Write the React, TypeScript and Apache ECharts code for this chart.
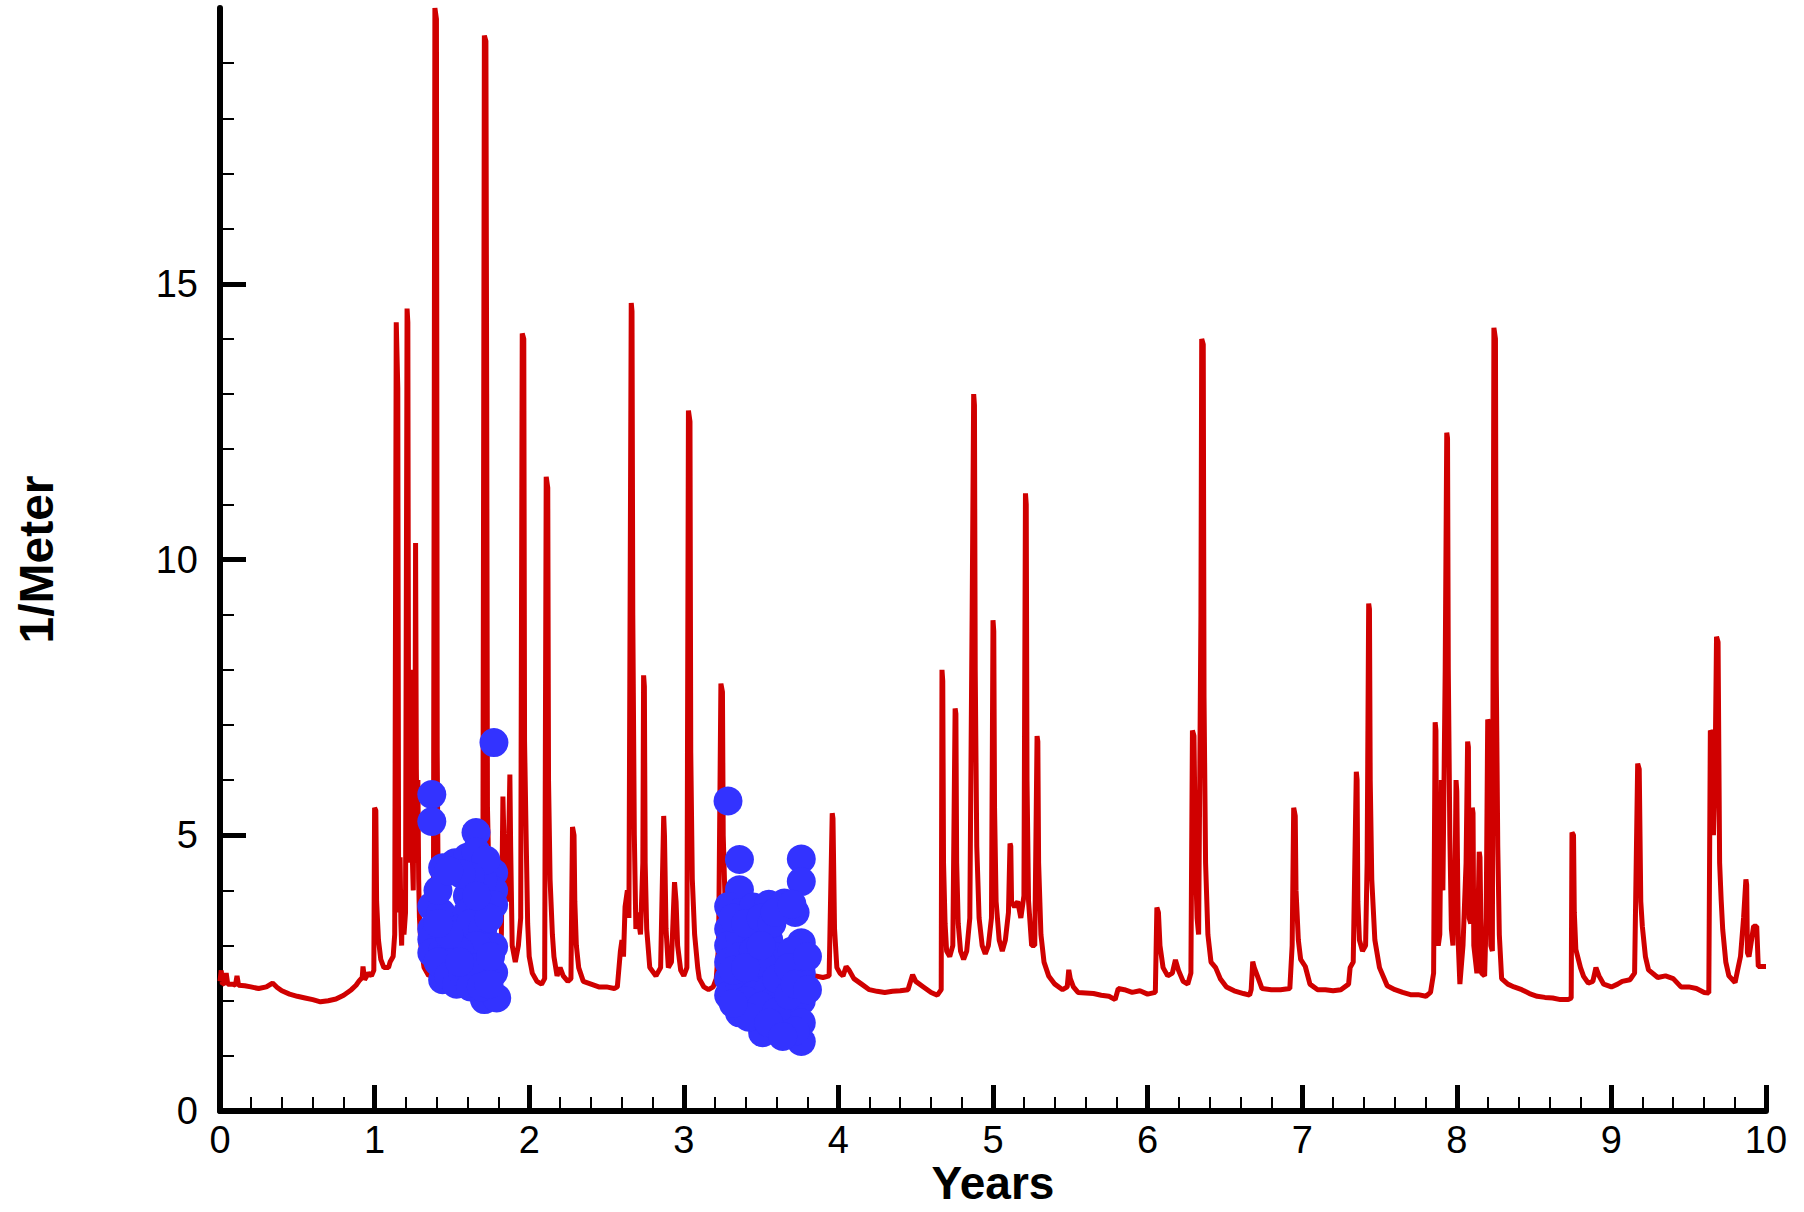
import React, { useEffect, useRef } from "react";
import * as echarts from "echarts";

// x-axis (Years) and y-axis (1/Meter) tick values
const yearTicks = [0, 1, 2, 3, 4, 5, 6, 7, 8, 9, 10];
const meterTicks = [0, 5, 10, 15];

// Red line: [year, 1/Meter], split in segments
const redSegA: [number, number][] = [
  [0, 2.35], [0.008, 2.55], [0.015, 2.3], [0.03, 2.32], [0.04, 2.5], [0.05, 2.3], [0.08, 2.3],
  [0.1, 2.28], [0.11, 2.45], [0.12, 2.28], [0.16, 2.27], [0.2, 2.25], [0.25, 2.22], [0.3, 2.25],
  [0.34, 2.32], [0.37, 2.24], [0.4, 2.18], [0.45, 2.12], [0.5, 2.08], [0.55, 2.05], [0.6, 2.02],
  [0.65, 1.98], [0.7, 2.0], [0.75, 2.03], [0.8, 2.1], [0.85, 2.2], [0.88, 2.28], [0.9, 2.36],
  [0.92, 2.42], [0.925, 2.62], [0.935, 2.38], [0.96, 2.5], [0.98, 2.45], [0.995, 2.55],
  [1.0, 5.5], [1.008, 5.45], [1.013, 3.8], [1.025, 3.1], [1.04, 2.75], [1.06, 2.6], [1.09, 2.6],
];
const redSegB: [number, number][] = [
  [1.1, 2.7], [1.12, 2.8], [1.13, 3.2], [1.14, 14.3], [1.15, 13.1], [1.155, 4.6], [1.16, 3.6],
  [1.165, 4.6], [1.17, 3.4], [1.175, 3.0], [1.18, 4.0], [1.19, 3.2], [1.2, 3.6], [1.21, 14.55],
  [1.215, 14.3], [1.22, 6.0], [1.225, 4.5], [1.235, 8.0], [1.24, 5.0], [1.25, 4.0], [1.255, 6.0],
  [1.26, 4.5], [1.265, 10.3], [1.27, 6.2], [1.275, 5.0], [1.28, 6.0], [1.285, 4.2], [1.29, 3.5],
  [1.3, 3.0], [1.32, 2.6], [1.35, 2.45], [1.38, 2.5], [1.39, 20], [1.4, 19.8], [1.405, 6.5],
  [1.41, 4.5], [1.43, 3.4], [1.46, 3.2], [1.5, 3.0], [1.53, 2.8], [1.56, 2.7], [1.6, 2.8],
  [1.62, 3.0], [1.65, 3.5], [1.68, 4.0], [1.7, 3.6], [1.71, 19.5], [1.72, 19.4], [1.725, 13.0],
  [1.73, 5.5], [1.74, 4.2], [1.76, 3.5], [1.78, 3.0], [1.8, 2.8], [1.82, 3.2], [1.83, 5.7],
  [1.84, 4.5], [1.86, 3.8], [1.875, 6.1], [1.88, 4.8], [1.89, 3.0], [1.91, 2.7], [1.93, 3.0],
  [1.945, 3.5], [1.955, 14.1], [1.965, 14.0], [1.97, 6.7], [1.98, 5.0], [1.99, 3.4], [2.0, 2.8],
  [2.02, 2.5], [2.05, 2.35], [2.08, 2.3], [2.1, 2.4], [2.11, 11.5], [2.12, 11.3], [2.125, 6.0],
  [2.135, 4.2], [2.15, 3.2], [2.16, 2.8], [2.18, 2.45], [2.2, 2.6], [2.22, 2.45], [2.25, 2.35],
  [2.27, 2.4], [2.28, 5.15], [2.29, 5.0], [2.295, 3.8], [2.305, 3.0], [2.32, 2.6], [2.35, 2.35],
  [2.4, 2.3], [2.45, 2.25], [2.5, 2.25], [2.55, 2.22], [2.57, 2.25],
];
const redSegC: [number, number][] = [
  [2.59, 2.9], [2.6, 3.1], [2.61, 2.8], [2.62, 3.7], [2.635, 4.0], [2.645, 3.5], [2.66, 14.65],
  [2.665, 14.5], [2.67, 9.0], [2.68, 5.0], [2.69, 3.3], [2.7, 3.6], [2.72, 3.2], [2.735, 4.5],
  [2.74, 7.9], [2.745, 7.7], [2.75, 4.5], [2.76, 3.3], [2.78, 2.6], [2.82, 2.45], [2.85, 2.6],
  [2.87, 5.35], [2.875, 5.0], [2.885, 3.3], [2.9, 2.6], [2.92, 2.7], [2.94, 4.15], [2.95, 3.8],
  [2.96, 3.0], [2.98, 2.55], [3.0, 2.45], [3.02, 2.6], [3.03, 12.7], [3.04, 12.5], [3.045, 6.5],
  [3.055, 4.2], [3.07, 3.2], [3.09, 2.6], [3.1, 2.4], [3.13, 2.25], [3.16, 2.2], [3.19, 2.25],
  [3.21, 2.4], [3.225, 3.0], [3.24, 7.75], [3.25, 7.6], [3.255, 5.0], [3.27, 3.5], [3.3, 2.7],
  [3.35, 2.45], [3.4, 2.4], [3.5, 2.35], [3.6, 2.35], [3.7, 2.35], [3.8, 2.4], [3.85, 2.45],
  [3.9, 2.42], [3.94, 2.45], [3.96, 5.4], [3.965, 5.3], [3.975, 3.3], [3.99, 2.6], [4.01, 2.5],
  [4.03, 2.45], [4.05, 2.62], [4.07, 2.55], [4.1, 2.4], [4.15, 2.3], [4.2, 2.2], [4.25, 2.17],
  [4.3, 2.15], [4.35, 2.17], [4.4, 2.18], [4.45, 2.2], [4.48, 2.47], [4.5, 2.35], [4.55, 2.25],
  [4.6, 2.15], [4.64, 2.1],
];
const redSegD: [number, number][] = [
  [4.665, 2.2], [4.67, 8.0], [4.675, 7.8], [4.68, 4.5], [4.69, 3.4], [4.7, 2.9], [4.72, 2.8],
  [4.74, 3.0], [4.755, 7.3], [4.76, 7.2], [4.765, 4.5], [4.775, 3.4], [4.79, 2.9], [4.81, 2.75],
  [4.83, 2.9], [4.85, 3.5], [4.865, 9.0], [4.875, 13.0], [4.88, 12.8], [4.885, 8.0], [4.895, 4.8],
  [4.91, 3.5], [4.93, 3.0], [4.95, 2.85], [4.97, 3.0], [4.99, 3.5], [5.0, 8.9], [5.005, 8.7],
  [5.01, 5.5], [5.02, 3.8], [5.04, 3.1], [5.06, 2.9], [5.08, 3.1], [5.1, 3.6], [5.11, 4.85],
  [5.115, 4.8], [5.12, 3.8], [5.14, 3.7], [5.16, 3.8], [5.18, 3.5], [5.2, 3.9], [5.21, 11.2],
  [5.215, 11.0], [5.22, 6.0], [5.23, 3.8], [5.25, 3.0], [5.27, 3.0], [5.285, 6.8], [5.29, 6.7],
  [5.295, 4.5], [5.31, 3.2], [5.33, 2.7], [5.36, 2.45], [5.4, 2.3], [5.45, 2.2], [5.48, 2.25],
  [5.49, 2.56], [5.5, 2.4], [5.52, 2.25], [5.55, 2.15], [5.6, 2.14], [5.65, 2.13], [5.7, 2.1],
  [5.75, 2.08], [5.79, 2.02], [5.81, 2.22], [5.85, 2.2], [5.9, 2.15], [5.95, 2.18], [6.0, 2.12],
  [6.05, 2.15], [6.06, 3.69], [6.07, 3.6], [6.08, 3.0], [6.1, 2.6], [6.13, 2.45], [6.16, 2.5],
  [6.18, 2.74], [6.2, 2.55], [6.23, 2.35], [6.26, 2.3], [6.28, 2.5], [6.29, 6.9], [6.3, 6.8],
  [6.31, 4.5], [6.32, 3.5], [6.33, 3.2], [6.345, 9.0], [6.35, 14.0], [6.36, 13.9], [6.365, 7.5],
  [6.375, 4.5], [6.39, 3.2], [6.41, 2.7], [6.44, 2.6], [6.47, 2.4], [6.51, 2.25], [6.56, 2.18],
  [6.62, 2.13],
];
const redSegE: [number, number][] = [
  [6.66, 2.1], [6.67, 2.2], [6.68, 2.71], [6.69, 2.6], [6.71, 2.45], [6.74, 2.22], [6.8, 2.2],
  [6.86, 2.2], [6.92, 2.22], [6.935, 3.0], [6.945, 5.5], [6.955, 5.35], [6.96, 4.0], [6.975, 3.1],
  [6.99, 2.75], [7.02, 2.62], [7.05, 2.3], [7.1, 2.2], [7.15, 2.2], [7.2, 2.18], [7.25, 2.2],
  [7.3, 2.3], [7.31, 2.6], [7.33, 2.7], [7.35, 6.15], [7.355, 6.0], [7.36, 3.8], [7.37, 3.1],
  [7.39, 2.9], [7.41, 3.0], [7.42, 4.5], [7.43, 9.2], [7.435, 9.1], [7.44, 6.0], [7.45, 4.2],
  [7.47, 3.1], [7.5, 2.6], [7.55, 2.27], [7.6, 2.2], [7.65, 2.15], [7.7, 2.11], [7.75, 2.11],
  [7.8, 2.08], [7.83, 2.15], [7.85, 2.5], [7.86, 7.05], [7.865, 6.9], [7.87, 3.8], [7.88, 3.0],
  [7.89, 3.2], [7.9, 6.0], [7.91, 4.0], [7.925, 8.0], [7.935, 12.3], [7.94, 12.2], [7.945, 8.0],
  [7.955, 5.0], [7.965, 3.3], [7.975, 3.0], [7.99, 4.5], [7.995, 6.0], [8.0, 5.8], [8.01, 3.0],
  [8.02, 2.3], [8.04, 3.0], [8.06, 4.5], [8.07, 6.7], [8.075, 6.6], [8.08, 3.5], [8.09, 3.4],
  [8.1, 5.5], [8.105, 5.4], [8.11, 3.0], [8.13, 2.5], [8.145, 4.7], [8.15, 4.6], [8.16, 2.5],
  [8.18, 2.45], [8.19, 3.5], [8.2, 7.1], [8.21, 7.0], [8.22, 3.0], [8.23, 2.9], [8.24, 14.2],
  [8.25, 14.0], [8.255, 8.0], [8.265, 4.8], [8.275, 3.2],
];
const redSegF: [number, number][] = [
  [8.29, 2.4], [8.33, 2.3], [8.37, 2.25], [8.42, 2.2], [8.47, 2.13], [8.52, 2.08], [8.57, 2.06],
  [8.62, 2.05], [8.67, 2.02], [8.72, 2.02], [8.74, 2.05], [8.745, 5.05], [8.755, 5.0], [8.76, 3.6],
  [8.77, 2.93], [8.8, 2.6], [8.82, 2.44], [8.85, 2.32], [8.88, 2.35], [8.9, 2.6], [8.92, 2.45],
  [8.95, 2.3], [9.0, 2.25], [9.04, 2.3], [9.07, 2.35], [9.12, 2.38], [9.15, 2.5], [9.17, 6.3],
  [9.18, 6.2], [9.19, 3.8], [9.2, 3.35], [9.22, 2.8], [9.24, 2.56], [9.3, 2.42], [9.35, 2.45],
  [9.4, 2.4], [9.45, 2.25], [9.5, 2.25], [9.55, 2.22], [9.6, 2.15], [9.63, 2.14], [9.64, 6.9],
  [9.65, 6.85], [9.66, 5.0], [9.67, 6.0], [9.68, 8.6], [9.69, 8.5], [9.7, 4.5], [9.71, 3.83],
  [9.72, 3.29], [9.74, 2.7], [9.76, 2.45], [9.8, 2.33], [9.82, 2.6], [9.835, 2.8], [9.855, 3.5],
  [9.87, 4.2], [9.875, 4.1], [9.88, 2.87], [9.89, 2.8], [9.92, 3.35], [9.94, 3.35], [9.95, 2.62],
  [10.0, 2.62],
];

// Blue measured points
const blueCluster1: [number, number][] = [
  [1.772, 6.68], [1.37, 5.74], [1.37, 5.25], [1.656, 5.05], [1.44, 4.41], [1.52, 4.5], [1.6, 4.6],
  [1.656, 4.7], [1.77, 4.32], [1.77, 4.0], [1.7, 4.2], [1.6, 3.9], [1.37, 3.71], [1.43, 3.6],
  [1.6, 3.6], [1.68, 3.8], [1.77, 3.74], [1.37, 3.3], [1.37, 3.11], [1.37, 2.87], [1.44, 2.9],
  [1.5, 3.0], [1.55, 3.3], [1.62, 3.4], [1.7, 3.3], [1.77, 2.98], [1.66, 3.0], [1.6, 2.7],
  [1.44, 2.38], [1.5, 2.6], [1.66, 2.32], [1.71, 2.02], [1.79, 2.05], [1.77, 2.51], [1.72, 2.6],
  [1.55, 2.9], [1.48, 3.2], [1.41, 4.0], [1.41, 3.4], [1.41, 2.7], [1.48, 2.45], [1.53, 2.3],
  [1.57, 2.5], [1.62, 2.25], [1.65, 2.6], [1.69, 2.25], [1.74, 2.3], [1.74, 3.5], [1.72, 4.55],
  [1.62, 4.25], [1.56, 4.3], [1.48, 4.35], [1.66, 3.9], [1.55, 2.7], [1.75, 2.8],
];
const blueCluster2: [number, number][] = [
  [3.286, 5.62], [3.36, 4.56], [3.76, 4.57], [3.76, 4.16], [3.36, 4.01], [3.29, 3.71], [3.36, 3.6],
  [3.45, 3.7], [3.55, 3.75], [3.65, 3.77], [3.72, 3.6], [3.29, 3.3], [3.29, 3.0], [3.29, 2.7],
  [3.29, 2.4], [3.29, 2.1], [3.36, 3.2], [3.36, 2.8], [3.36, 2.3], [3.36, 1.78], [3.45, 3.3],
  [3.45, 2.9], [3.45, 2.5], [3.45, 2.1], [3.51, 1.42], [3.55, 3.1], [3.55, 2.6], [3.55, 2.2],
  [3.58, 2.0], [3.62, 2.8], [3.65, 2.4], [3.68, 1.7], [3.76, 3.05], [3.76, 2.5], [3.76, 2.0],
  [3.76, 1.6], [3.76, 1.26], [3.7, 2.9], [3.65, 1.5], [3.32, 3.5], [3.32, 2.55], [3.4, 2.0],
  [3.4, 3.4], [3.5, 3.5], [3.5, 2.7], [3.5, 1.9], [3.57, 3.4], [3.6, 2.4], [3.6, 1.8],
  [3.68, 2.6], [3.68, 2.1], [3.72, 2.3], [3.72, 1.45], [3.42, 1.7], [3.55, 1.6], [3.64, 1.35],
  [3.8, 2.8], [3.8, 2.2], [3.4, 2.6], [3.5, 3.0], [3.59, 3.6], [3.7, 3.75], [3.32, 1.95],
];

const FONT = "'Liberation Sans', Arial, Helvetica, sans-serif";

export default function App() {
  const ref = useRef<HTMLDivElement>(null);
  useEffect(() => {
    if (!ref.current) return;
    const chart = echarts.init(ref.current, null, { renderer: "svg" });
    const redLine = [...redSegA, ...redSegB, ...redSegC, ...redSegD, ...redSegE, ...redSegF];
    const blue = [...blueCluster1, ...blueCluster2];
    chart.setOption({
      animation: false,
      backgroundColor: "#ffffff",
      grid: { left: 220, right: 38, top: 8, bottom: 101, containLabel: false, outerBoundsMode: "none" },
      xAxis: {
        type: "value",
        min: yearTicks[0],
        max: yearTicks[yearTicks.length - 1],
        interval: 1,
        name: "Years",
        nameLocation: "middle",
        nameGap: 49,
        nameMoveOverlap: false,
        nameTextStyle: { fontSize: 46, fontWeight: "bold", color: "#000", fontFamily: FONT },
        axisLine: { show: true, onZero: false, lineStyle: { color: "#000", width: 6 } },
        axisTick: { show: true, inside: true, length: 26, lineStyle: { color: "#000", width: 5 } },
        minorTick: { show: true, splitNumber: 5, length: 14, lineStyle: { color: "#000", width: 2 } },
        axisLabel: { fontSize: 38, color: "#000", margin: 10, fontFamily: FONT },
        splitLine: { show: false },
        minorSplitLine: { show: false },
      },
      yAxis: {
        type: "value",
        min: 0,
        max: 20,
        interval: 5,
        name: "1/Meter",
        nameLocation: "middle",
        nameGap: 160,
        nameMoveOverlap: false,
        nameRotate: 90,
        nameTextStyle: { fontSize: 48, fontWeight: "bold", color: "#000", fontFamily: FONT },
        axisLine: { show: true, onZero: false, lineStyle: { color: "#000", width: 6 } },
        axisTick: {
          show: true,
          inside: true,
          length: 26,
          customValues: meterTicks,
          lineStyle: { color: "#000", width: 5 },
        },
        minorTick: { show: true, splitNumber: 5, length: 14, lineStyle: { color: "#000", width: 2 } },
        axisLabel: {
          fontSize: 38,
          color: "#000",
          margin: 22,
          fontFamily: FONT,
          customValues: meterTicks,
        },
        splitLine: { show: false },
        minorSplitLine: { show: false },
      },
      series: [
        {
          type: "line",
          data: redLine,
          showSymbol: false,
          symbol: "none",
          lineStyle: { color: "#d00000", width: 5 },
          z: 2,
        },
        {
          type: "scatter",
          data: blue,
          symbol: "circle",
          symbolSize: 29,
          itemStyle: { color: "#3333ff", opacity: 1 },
          z: 3,
        },
      ],
    });
    return () => chart.dispose();
  }, []);
  return (
    <div
      ref={ref}
      style={{ position: "absolute", left: 0, top: 0, width: 1804, height: 1212, background: "#fff" }}
    />
  );
}
